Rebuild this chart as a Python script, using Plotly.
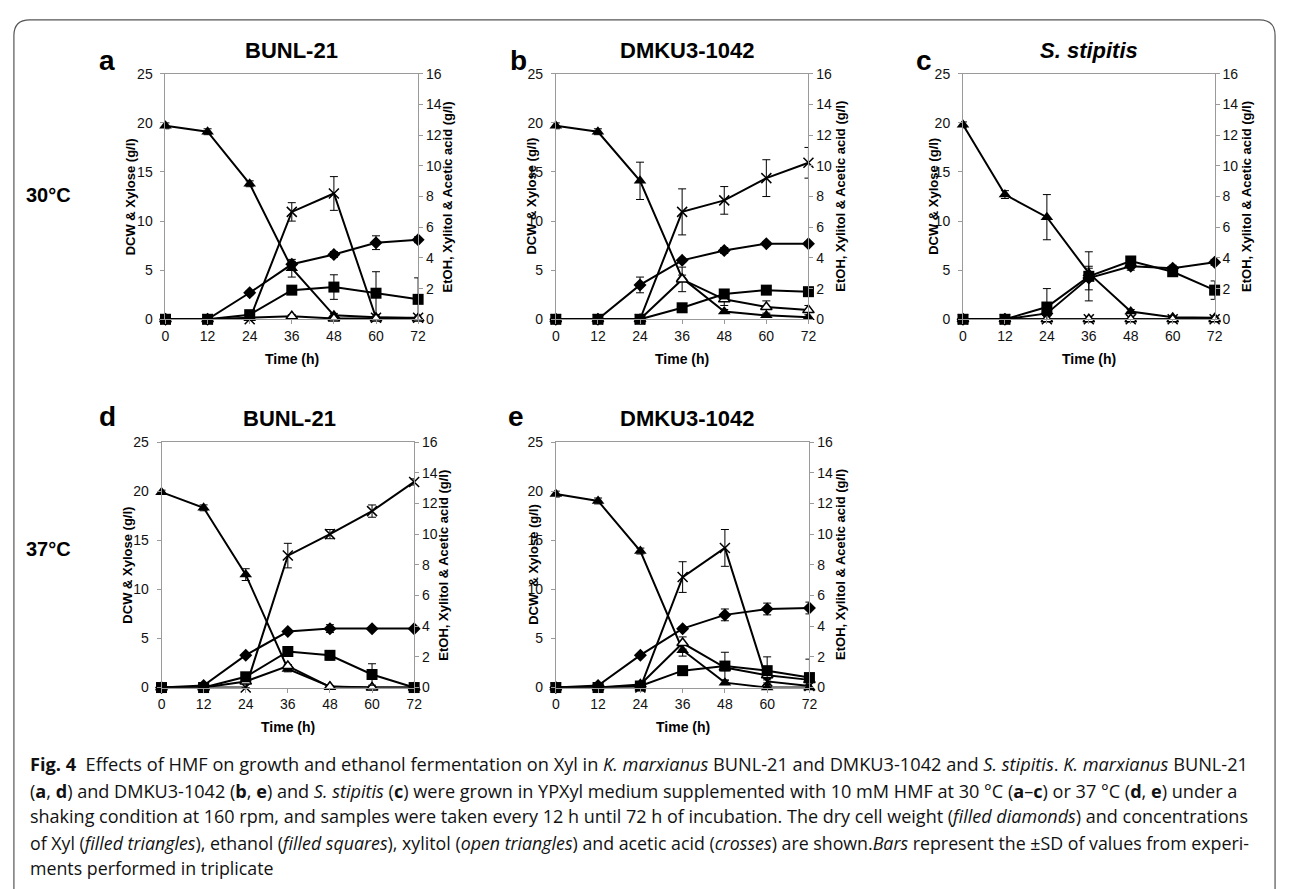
import plotly.graph_objects as go

W, H = 1290, 889

# ---------------- data ----------------
time = [0, 12, 24, 36, 48, 60, 72]
x_tick_labels = ["0", "12", "24", "36", "48", "60", "72"]
left_ticks = [0, 5, 10, 15, 20, 25]
right_ticks = [0, 2, 4, 6, 8, 10, 12, 14, 16]

# panel a: BUNL-21, 30 C
a_dcw = [0, 0, 2.7, 5.6, 6.6, 7.8, 8.1]
a_dcw_sd = [0, 0, 0.2, 0.3, 0.3, 0.7, 0.3]
a_xyl = [19.7, 19.1, 13.8, 5.2, 0.4, 0.2, 0.1]
a_xyl_sd = [0.3, 0.3, 0.3, 0.9, 0.2, 0.1, 0.1]
a_etoh = [0, 0, 0.3, 1.9, 2.1, 1.7, 1.3]
a_etoh_sd = [0, 0, 0.2, 0.2, 0.8, 1.4, 1.4]
a_xylitol = [0, 0, 0.1, 0.2, 0.05, 0.05, 0.05]
a_xylitol_sd = [0, 0, 0, 0.1, 0, 0, 0]
a_acetic = [0, 0, 0, 7.0, 8.2, 0.1, 0.1]
a_acetic_sd = [0, 0, 0, 0.6, 1.1, 0.1, 0.1]

# panel b: DMKU3-1042, 30 C
b_dcw = [0, 0, 3.5, 6.0, 7.0, 7.7, 7.7]
b_dcw_sd = [0, 0, 0.8, 0.2, 0.3, 0.2, 0.2]
b_xyl = [19.7, 19.1, 14.1, 4.2, 0.8, 0.4, 0.2]
b_xyl_sd = [0.3, 0.3, 1.9, 0.3, 0.2, 0.1, 0.1]
b_etoh = [0, 0, 0, 0.75, 1.65, 1.9, 1.8]
b_etoh_sd = [0, 0, 0, 0.1, 0.1, 0.1, 0.1]
b_xylitol = [0, 0, 0, 2.6, 1.3, 0.8, 0.6]
b_xylitol_sd = [0, 0, 0, 0.8, 0.4, 0.4, 0.3]
b_acetic = [0, 0, 0, 7.0, 7.75, 9.2, 10.2]
b_acetic_sd = [0, 0, 0, 1.5, 0.9, 1.2, 1.0]

# panel c: S. stipitis, 30 C
c_dcw = [0, 0, 0.6, 4.2, 5.4, 5.2, 5.8]
c_dcw_sd = [0, 0, 0.2, 1.2, 0.4, 0.3, 0.3]
c_xyl = [19.8, 12.7, 10.4, 4.7, 0.8, 0.2, 0.15]
c_xyl_sd = [0.3, 0.4, 2.3, 0.5, 0.2, 0.1, 0.1]
c_etoh = [0, 0, 0.8, 2.8, 3.8, 3.1, 1.9]
c_etoh_sd = [0, 0, 1.2, 1.6, 0.2, 0.3, 0.6]
c_xylitol = [0, 0, 0, 0, 0, 0, 0]
c_xylitol_sd = [0, 0, 0, 0, 0, 0, 0]
c_acetic = [0, 0, 0, 0, 0, 0, 0]
c_acetic_sd = [0, 0, 0, 0, 0, 0, 0]

# panel d: BUNL-21, 37 C
d_dcw = [0, 0.2, 3.3, 5.7, 6.0, 6.0, 6.0]
d_dcw_sd = [0, 0, 0.1, 0.1, 0.4, 0.1, 0.1]
d_xyl = [19.9, 18.3, 11.5, 1.9, 0.1, 0, 0]
d_xyl_sd = [0.2, 0.3, 0.6, 0.3, 0.1, 0, 0]
d_etoh = [0, 0, 0.7, 2.35, 2.1, 0.85, 0]
d_etoh_sd = [0, 0, 0.1, 0.2, 0.3, 0.7, 0]
d_xylitol = [0, 0, 0.4, 1.4, 0.05, 0, 0]
d_xylitol_sd = [0, 0, 0, 0.1, 0, 0, 0]
d_acetic = [0, 0, 0, 8.6, 10.0, 11.5, 13.4]
d_acetic_sd = [0, 0, 0, 0.8, 0.3, 0.4, 0.2]

# panel e: DMKU3-1042, 37 C
e_dcw = [0, 0.2, 3.3, 6.0, 7.4, 8.0, 8.1]
e_dcw_sd = [0, 0, 0.1, 0.2, 0.6, 0.6, 0.6]
e_xyl = [19.7, 19.0, 13.9, 3.8, 0.5, 0, 0]
e_xyl_sd = [0.3, 0.3, 0.3, 0.6, 0.2, 0, 0]
e_etoh = [0, 0, 0.1, 1.1, 1.4, 1.1, 0.65]
e_etoh_sd = [0, 0, 0, 0.1, 0.9, 0.9, 1.2]
e_xylitol = [0, 0, 0.2, 2.9, 1.3, 0.8, 0.5]
e_xylitol_sd = [0, 0, 0, 0.4, 0.2, 0.2, 0.1]
e_acetic = [0, 0, 0, 7.2, 9.1, 0.4, 0.1]
e_acetic_sd = [0, 0, 0, 1.0, 1.2, 0.1, 0.1]

# ---------------- layout helpers ----------------
FONT = "Liberation Sans, Arial, sans-serif"
CAP_FONT = "Open Sans, Liberation Sans, sans-serif"
AX_COLOR = "#9a9a9a"


def fx(px):
    return px / W


def fy(py):
    return 1 - py / H


panels = [
    dict(letter="a", title="<b>BUNL-21</b>", box=(163, 418, 67, 317),
         letter_xy=(104, 53), title_xy=(290, 43), ltitle="DCW & Xylose (g/l)",
         ltx=128, rtx=448,
         series=(a_dcw, a_dcw_sd, a_xyl, a_xyl_sd, a_etoh, a_etoh_sd,
                 a_xylitol, a_xylitol_sd, a_acetic, a_acetic_sd)),
    dict(letter="b", title="<b>DMKU3-1042</b>", box=(557, 812, 67, 317),
         letter_xy=(519, 53), title_xy=(690, 43), ltitle="DCW & Xylose (g/l)",
         ltx=532, rtx=844,
         series=(b_dcw, b_dcw_sd, b_xyl, b_xyl_sd, b_etoh, b_etoh_sd,
                 b_xylitol, b_xylitol_sd, b_acetic, b_acetic_sd)),
    dict(letter="c", title="<b><i>S. stipitis</i></b>", box=(968, 1222, 67, 317),
         letter_xy=(929, 53), title_xy=(1095, 43), ltitle="DCW & Xylose (g/l)",
         ltx=938, rtx=1254,
         series=(c_dcw, c_dcw_sd, c_xyl, c_xyl_sd, c_etoh, c_etoh_sd,
                 c_xylitol, c_xylitol_sd, c_acetic, c_acetic_sd)),
    dict(letter="d", title="<b>BUNL-21</b>", box=(159, 414, 442, 692),
         letter_xy=(104, 416), title_xy=(288, 418), ltitle="DCW & Xylose (g/l)",
         ltx=125, rtx=444,
         series=(d_dcw, d_dcw_sd, d_xyl, d_xyl_sd, d_etoh, d_etoh_sd,
                 d_xylitol, d_xylitol_sd, d_acetic, d_acetic_sd)),
    dict(letter="e", title="<b>DMKU3-1042</b>", box=(557, 813, 442, 692),
         letter_xy=(517, 416), title_xy=(690, 418), ltitle="DCW  & Xylose (g/l)",
         ltx=535, rtx=845,
         series=(e_dcw, e_dcw_sd, e_xyl, e_xyl_sd, e_etoh, e_etoh_sd,
                 e_xylitol, e_xylitol_sd, e_acetic, e_acetic_sd)),
]

fig = go.Figure()
annotations = []
layout = {}


def err(sd):
    return dict(type="data", array=sd, visible=True, color="black",
                thickness=1, width=4)


for i, p in enumerate(panels, start=1):
    xname = "x" if i == 1 else f"x{i}"
    yl_idx = 2 * i - 1
    yr_idx = 2 * i
    ylname = "y" if yl_idx == 1 else f"y{yl_idx}"
    yrname = f"y{yr_idx}"
    x0, x1, y0, y1 = p["box"]

    common_axis = dict(showline=True, linecolor=AX_COLOR, linewidth=1,
                       ticks="outside", ticklen=4, tickcolor=AX_COLOR,
                       showgrid=False, zeroline=False,
                       tickfont=dict(family=FONT, size=14, color="#111"))

    layout["xaxis" if i == 1 else f"xaxis{i}"] = dict(
        domain=[fx(x0), fx(x1)], anchor=ylname, range=[0, 72], mirror=True,
        tickmode="array", tickvals=time, ticktext=x_tick_labels, **common_axis)
    layout["yaxis" if yl_idx == 1 else f"yaxis{yl_idx}"] = dict(
        domain=[fy(y1), fy(y0)], anchor=xname, range=[0, 25],
        tickmode="array", tickvals=left_ticks, ticklabelstandoff=5, **common_axis)
    layout[f"yaxis{yr_idx}"] = dict(
        overlaying=ylname, side="right", anchor=xname, range=[0, 16],
        tickmode="array", tickvals=right_ticks, ticklabelstandoff=0, **common_axis)

    dcw, dcw_sd, xyl, xyl_sd, etoh, etoh_sd, xylitol, xylitol_sd, acetic, acetic_sd = p["series"]
    line = dict(color="black", width=2)

    fig.add_trace(go.Scatter(x=time, y=acetic, xaxis=xname, yaxis=yrname,
                             mode="lines+markers", line=line, cliponaxis=False,
                             marker=dict(symbol="x-thin-open", size=10,
                                         line=dict(color="black", width=1.5)),
                             error_y=err(acetic_sd), showlegend=False,
                             name="Acetic acid"))
    fig.add_trace(go.Scatter(x=time, y=xylitol, xaxis=xname, yaxis=yrname,
                             mode="lines+markers", line=line, cliponaxis=False,
                             marker=dict(symbol="triangle-up", size=10, color="white",
                                         line=dict(color="black", width=1.5)),
                             error_y=err(xylitol_sd), showlegend=False,
                             name="Xylitol"))
    fig.add_trace(go.Scatter(x=time, y=dcw, xaxis=xname, yaxis=ylname,
                             mode="lines+markers", line=line, cliponaxis=False,
                             marker=dict(symbol="diamond", size=10, color="black"),
                             error_y=err(dcw_sd), showlegend=False, name="DCW"))
    fig.add_trace(go.Scatter(x=time, y=etoh, xaxis=xname, yaxis=yrname,
                             mode="lines+markers", line=line, cliponaxis=False,
                             marker=dict(symbol="square", size=11, color="black"),
                             error_y=err(etoh_sd), showlegend=False, name="Ethanol"))
    fig.add_trace(go.Scatter(x=time, y=xyl, xaxis=xname, yaxis=ylname,
                             mode="lines+markers", line=line, cliponaxis=False,
                             marker=dict(symbol="triangle-up", size=11, color="black"),
                             error_y=err(xyl_sd), showlegend=False, name="Xylose"))

    # texts
    lx, ly = p["letter_xy"]
    annotations.append(dict(x=fx(lx), y=fy(ly), xref="paper", yref="paper",
                            text=f"<b>{p['letter']}</b>", showarrow=False,
                            font=dict(family=FONT, size=28, color="black"),
                            xanchor="center", yanchor="middle", borderpad=0))
    tx, ty = p["title_xy"]
    annotations.append(dict(x=fx(tx), y=fy(ty), xref="paper", yref="paper",
                            text=p["title"], showarrow=False,
                            font=dict(family=FONT, size=22, color="black"),
                            xanchor="center", yanchor="middle"))
    cy = (y0 + y1) / 2
    annotations.append(dict(x=fx(p["ltx"]), y=fy(cy), xref="paper", yref="paper",
                            text=f"<b>{p['ltitle']}</b>", showarrow=False, textangle=-90,
                            font=dict(family=FONT, size=13, color="black"),
                            xanchor="center", yanchor="middle"))
    annotations.append(dict(x=fx(p["rtx"]), y=fy(cy), xref="paper", yref="paper",
                            text="<b>EtOH, Xylitol &amp; Acetic acid (g/l)</b>",
                            showarrow=False, textangle=-90,
                            font=dict(family=FONT, size=13, color="black"),
                            xanchor="center", yanchor="middle"))
    annotations.append(dict(x=fx((x0 + x1) / 2), y=fy(y1 + 40), xref="paper", yref="paper",
                            text="<b>Time (h)</b>", showarrow=False,
                            font=dict(family=FONT, size=14, color="black"),
                            xanchor="center", yanchor="middle"))

annotations.append(dict(x=fx(45), y=fy(190), xref="paper", yref="paper",
                        text="<b>30°C</b>", showarrow=False,
                        font=dict(family=FONT, size=20, color="black"),
                        xanchor="center", yanchor="middle"))
annotations.append(dict(x=fx(45), y=fy(551), xref="paper", yref="paper",
                        text="<b>37°C</b>", showarrow=False,
                        font=dict(family=FONT, size=20, color="black"),
                        xanchor="center", yanchor="middle"))

caption_lines = [
    "<b>Fig. 4</b>  Effects of HMF on growth and ethanol fermentation on Xyl in <i>K. marxianus</i> BUNL-21 and DMKU3-1042 and <i>S. stipitis</i>. <i>K. marxianus</i> BUNL-21",
    "(<b>a</b>, <b>d</b>) and DMKU3-1042 (<b>b</b>, <b>e</b>) and <i>S. stipitis</i> (<b>c</b>) were grown in YPXyl medium supplemented with 10 mM HMF at 30 °C (<b>a</b>–<b>c</b>) or 37 °C (<b>d</b>, <b>e</b>) under a",
    "shaking condition at 160 rpm, and samples were taken every 12 h until 72 h of incubation. The dry cell weight (<i>filled diamonds</i>) and concentrations",
    "of Xyl (<i>filled triangles</i>), ethanol (<i>filled squares</i>), xylitol (<i>open triangles</i>) and acetic acid (<i>crosses</i>) are shown.<i>Bars</i> represent the ±SD of values from experi-",
    "ments performed in triplicate",
]
caption_y = [770, 797, 823, 850, 876]
caption_size = [18.2, 18.1, 18.0, 17.8, 17.8]
for txt, yy, sz in zip(caption_lines, caption_y, caption_size):
    annotations.append(dict(x=fx(24), y=fy(yy), xref="paper", yref="paper",
                            text=txt, showarrow=False,
                            font=dict(family=CAP_FONT, size=sz, color="#111"),
                            xanchor="left", yanchor="middle"))

# rounded frame
r = 16
L, T, R, B = 10, 12, 1283, 900
path = (f"M {fx(L)},{fy(T + r)} Q {fx(L)},{fy(T)} {fx(L + r)},{fy(T)} "
        f"L {fx(R - r)},{fy(T)} Q {fx(R)},{fy(T)} {fx(R)},{fy(T + r)} "
        f"L {fx(R)},{fy(B)} L {fx(L)},{fy(B)} Z")
shapes = [dict(type="path", path=path, xref="paper", yref="paper",
               line=dict(color="#555", width=1.2), fillcolor="rgba(0,0,0,0)")]

fig.update_layout(
    width=W, height=H, autosize=False,
    margin=dict(l=0, r=0, t=0, b=0),
    paper_bgcolor="white", plot_bgcolor="white",
    showlegend=False,
    annotations=annotations, shapes=shapes,
    **layout,
)

fig.write_html(
    "out.html",
    config={"displayModeBar": False},
    post_script=(
        "document.documentElement.style.margin='0px';"
        "document.documentElement.style.overflow='hidden';"
        "document.body.style.margin='0px';document.body.style.padding='0px';"
        "document.body.style.overflow='hidden';"
        "var gd=document.getElementById('{plot_id}');"
        "gd.style.position='fixed';gd.style.top='0px';gd.style.left='0px';"
    ),
)
